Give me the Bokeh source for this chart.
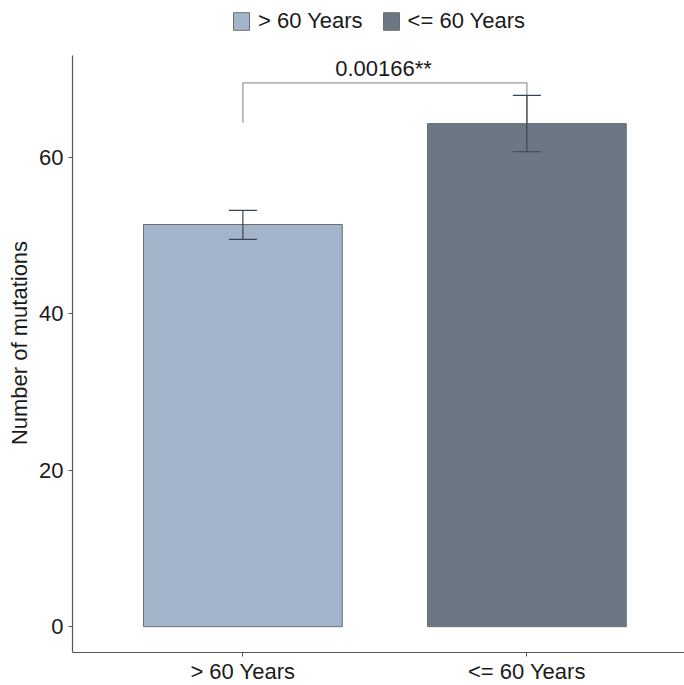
from bokeh.plotting import figure
from bokeh.models import Range1d, FixedTicker, ColumnDataSource, Legend, LegendItem, Whisker, Label, TeeHead
from bokeh.embed import file_html
from bokeh.resources import INLINE

categories = ["> 60 Years", "<= 60 Years"]
means = [51.4, 64.3]
err_low = [49.5, 60.7]
err_high = [53.2, 67.9]
colors = ["#A3B4CB", "#6C7786"]
p_label = "0.00166**"
bracket_top = 69.5
bracket_bottom = 64.4
y_ticks = [0, 20, 40, 60]

FONT = "Liberation Sans"
xs = [i + 1 for i in range(len(categories))]
Y_MIN, Y_MAX = -3.3, 73.0

p = figure(width=684, height=685, output_backend="svg", toolbar_location=None,
           x_range=Range1d(0.4, 2.555), y_range=Range1d(-7.517, 80.03),
           min_border_left=72, min_border_right=0, min_border_top=0, min_border_bottom=0)
p.outline_line_color = None
p.xgrid.visible = False
p.ygrid.visible = False
p.background_fill_color = "white"

src = ColumnDataSource(dict(x=xs, top=means, cat=categories, color=colors,
                            lo=err_low, hi=err_high))
bars = p.vbar(x="x", top="top", bottom=0, width=0.7, source=src,
              fill_color="color", line_color="#6E6E6E", line_width=1)

# significance bracket
p.line(x=[xs[0], xs[0], xs[1], xs[1]],
       y=[bracket_bottom, bracket_top, bracket_top, bracket_bottom],
       line_color="#9A9A9A", line_width=1.3)
p.add_layout(Label(x=(xs[0] + xs[1]) / 2 - 0.005, y=bracket_top + 1.9, text=p_label,
                   text_font=FONT, text_font_size="22px", text_color="#1A1A1A",
                   text_align="center", text_baseline="alphabetic"))

wh = Whisker(base="x", lower="lo", upper="hi", source=src, line_color="#3A4554",
             line_width=1.2, level="overlay",
             upper_head=TeeHead(size=28, line_color="#3A4554", line_width=1.2),
             lower_head=TeeHead(size=28, line_color="#3A4554", line_width=1.2))
p.add_layout(wh)

# axes
for ax in (p.xaxis[0], p.yaxis[0]):
    ax.axis_line_color = "#555555"
    ax.axis_line_width = 1.2
    ax.major_tick_line_color = "#555555"
    ax.major_tick_out = 4
    ax.major_tick_in = 0
    ax.minor_tick_line_color = None
    ax.major_label_text_font = FONT
    ax.major_label_text_font_size = "22px"
    ax.major_label_text_color = "#1A1A1A"

p.xaxis.axis_label = None
p.xaxis.fixed_location = Y_MIN
p.xaxis.ticker = FixedTicker(ticks=xs)
p.xaxis.major_label_overrides = {x: c for x, c in zip(xs, categories)}
p.xaxis.major_label_standoff = 2
p.yaxis.ticker = FixedTicker(ticks=y_ticks)
p.yaxis.bounds = (Y_MIN, Y_MAX)
p.yaxis.major_label_standoff = 5
p.yaxis.axis_label = "Number of mutations"
p.yaxis.axis_label_text_font = FONT
p.yaxis.axis_label_text_font_size = "22px"
p.yaxis.axis_label_text_font_style = "normal"
p.yaxis.axis_label_text_color = "#1A1A1A"
p.yaxis.axis_label_standoff = 4

items = [LegendItem(label=c, renderers=[bars], index=i) for i, c in enumerate(categories)]
legend = Legend(items=items, orientation="horizontal", location=(159, 651),
                label_text_font=FONT, label_text_font_size="22px", label_text_color="#1A1A1A",
                glyph_width=20, glyph_height=22, label_standoff=7, spacing=18,
                padding=2, margin=0, border_line_color=None, background_fill_alpha=0,
                label_height=22)
p.add_layout(legend, "center")

open("out.html", "w").write(file_html(p, INLINE))
